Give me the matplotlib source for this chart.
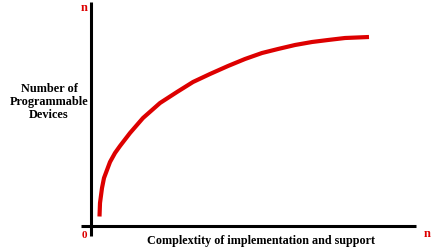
import matplotlib.pyplot as plt

# curve (pixels from the origin of the axes)
complexity = [8.5, 9, 11, 13, 16, 19, 24, 29, 39, 52, 69, 86, 102, 119, 137,
              154, 171, 187, 204, 221, 237, 254, 278]
devices = [9.5, 23, 38, 48, 56, 64, 73, 80, 93, 108, 123, 134, 144, 152, 160,
           167, 173, 177, 181, 184, 186, 188, 189]

red = '#dd0000'
font = dict(family='Liberation Serif', weight='bold')

fig = plt.figure(figsize=(4.32, 2.49), dpi=100)
W, H = 432, 249
x0, y0 = 91, 226  # pixel position of the origin
ax = fig.add_axes([x0 / W, (H - y0) / H, (416 - x0) / W, (y0 - 2) / H])
ax.set_xlim(0, 416 - x0)
ax.set_ylim(0, y0 - 2)
ax.axis('off')

# axis lines, a bit past the origin
ax.plot([0, 0], [-10, y0 - 2], color='black', lw=2.2, clip_on=False, solid_capstyle='butt')
ax.plot([-10, 416 - x0], [0, 0], color='black', lw=2.2, clip_on=False, solid_capstyle='butt')

ax.plot(complexity, devices, color=red, lw=3, solid_capstyle='butt', solid_joinstyle='round')

fig.text(84 / W, 1 - 8 / H, 'n', color=red, fontsize=9, ha='center', va='center', **font)
fig.text(84 / W, 1 - 235 / H, '0', color=red, fontsize=8, ha='center', va='center', **font)
fig.text(427 / W, 1 - 234 / H, 'n', color=red, fontsize=9, ha='center', va='center', **font)

fig.text(261 / W, 1 - 241 / H, 'Complextity of implementation and support',
         fontsize=8.7, ha='center', va='center', **font)
fig.text(49 / W, 1 - 102 / H, 'Number of\nProgrammable\nDevices',
         fontsize=8.8, ha='center', va='center', linespacing=1.15, **font)

fig.savefig('out.png', dpi=100)
